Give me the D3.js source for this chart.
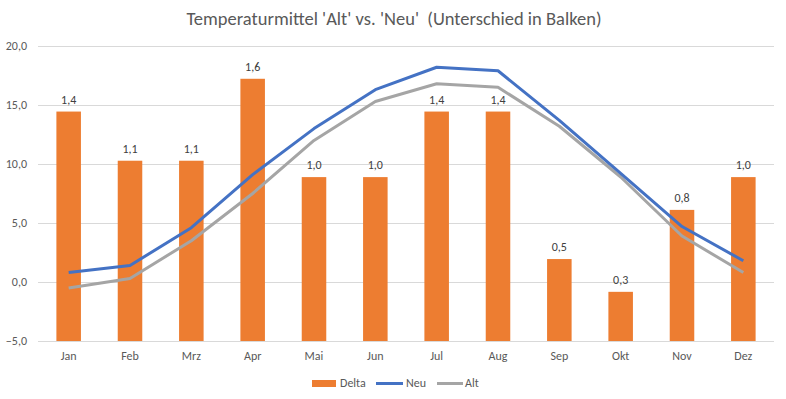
<!DOCTYPE html>
<meta charset="utf-8">
<style>
  body, html { margin:0; padding:0; background:#fff; }
  svg { display:block; }
  text { font-family: Carlito, Calibri, "Open Sans", sans-serif; fill:#595959; }
</style>
<body>
<svg width="786" height="399"></svg>
<script src="https://d3js.org/d3.v7.min.js"></script>
<script>

var months = ["Jan","Feb","Mrz","Apr","Mai","Jun","Jul","Aug","Sep","Okt","Nov","Dez"];
var delta = [1.4, 1.1, 1.1, 1.6, 1.0, 1.0, 1.4, 1.4, 0.5, 0.3, 0.8, 1.0];
var neu = [0.8, 1.4, 4.6, 9.1, 13.0, 16.3, 18.2, 17.9, 13.7, 9.2, 4.7, 1.8];
var alt = [-0.5, 0.3, 3.5, 7.5, 12.0, 15.3, 16.8, 16.5, 13.2, 8.9, 3.9, 0.8];
var yTicks = [-5, 0, 5, 10, 15, 20];

var fmt = function(v) { return d3.format(".1f")(v).replace(".", ","); };

var svg = d3.select("svg");

var x = d3.scaleBand()
    .domain(months)
    .range([38, 774]);

var y = d3.scaleLinear()
    .domain([-5, 20])
    .range([341, 46]);

// hidden secondary axis for the delta bars
var y2 = d3.scaleLinear()
    .domain([0, 1.8])
    .range([341, 46]);

// gridlines
svg.append("g")
    .selectAll("line")
    .data(yTicks)
    .enter().append("line")
    .attr("x1", 38)
    .attr("x2", 774)
    .attr("y1", function(d) { return Math.round(y(d)) + 0.5; })
    .attr("y2", function(d) { return Math.round(y(d)) + 0.5; })
    .attr("stroke", "#d9d9d9")
    .attr("stroke-width", 1);

// y axis labels
svg.append("g")
    .selectAll("text")
    .data(yTicks)
    .enter().append("text")
    .attr("x", 27)
    .attr("y", function(d) { return y(d) + 4; })
    .attr("text-anchor", "end")
    .style("font-size", "12px")
    .text(fmt);

// category labels
svg.append("g")
    .selectAll("text")
    .data(months)
    .enter().append("text")
    .attr("x", function(d) { return x(d) + x.bandwidth() / 2; })
    .attr("y", 360)
    .attr("text-anchor", "middle")
    .style("font-size", "12px")
    .text(function(d) { return d; });

// bars
var bw = x.bandwidth() / 2.5;
svg.append("g")
    .selectAll("rect")
    .data(delta)
    .enter().append("rect")
    .attr("x", function(d, i) { return x(months[i]) + (x.bandwidth() - bw) / 2; })
    .attr("y", function(d) { return y2(d); })
    .attr("width", bw)
    .attr("height", function(d) { return y2(0) - y2(d); })
    .attr("fill", "#ed7d31");

// bar labels
svg.append("g")
    .selectAll("text")
    .data(delta)
    .enter().append("text")
    .attr("x", function(d, i) { return x(months[i]) + x.bandwidth() / 2; })
    .attr("y", function(d) { return y2(d) - 8; })
    .attr("text-anchor", "middle")
    .style("font-size", "12px")
    .style("fill", "#404040")
    .text(fmt);

// lines
var line = d3.line()
    .x(function(d, i) { return x(months[i]) + x.bandwidth() / 2; })
    .y(function(d) { return y(d); });

svg.append("path")
    .datum(alt)
    .attr("d", line)
    .attr("fill", "none")
    .attr("stroke", "#a5a5a5")
    .attr("stroke-width", 3)
    .attr("stroke-linejoin", "round");

svg.append("path")
    .datum(neu)
    .attr("d", line)
    .attr("fill", "none")
    .attr("stroke", "#4472c4")
    .attr("stroke-width", 3)
    .attr("stroke-linejoin", "round");

// title
svg.append("text")
    .attr("x", 394)
    .attr("y", 25)
    .attr("text-anchor", "middle")
    .style("font-size", "18.5px")
    .style("white-space", "pre")
    .text("Temperaturmittel 'Alt' vs. 'Neu'  (Unterschied in Balken)");

// legend
var legend = svg.append("g");
legend.append("rect")
    .attr("x", 312).attr("y", 380)
    .attr("width", 24).attr("height", 7)
    .attr("fill", "#ed7d31");
legend.append("text")
    .attr("x", 340).attr("y", 387)
    .style("font-size", "12px")
    .text("Delta");
legend.append("line")
    .attr("x1", 376).attr("x2", 403)
    .attr("y1", 383.5).attr("y2", 383.5)
    .attr("stroke", "#4472c4").attr("stroke-width", 3);
legend.append("text")
    .attr("x", 406).attr("y", 387)
    .style("font-size", "12px")
    .text("Neu");
legend.append("line")
    .attr("x1", 437).attr("x2", 463)
    .attr("y1", 383.5).attr("y2", 383.5)
    .attr("stroke", "#a5a5a5").attr("stroke-width", 3);
legend.append("text")
    .attr("x", 465).attr("y", 387)
    .style("font-size", "12px")
    .text("Alt");

</script>
</body>
